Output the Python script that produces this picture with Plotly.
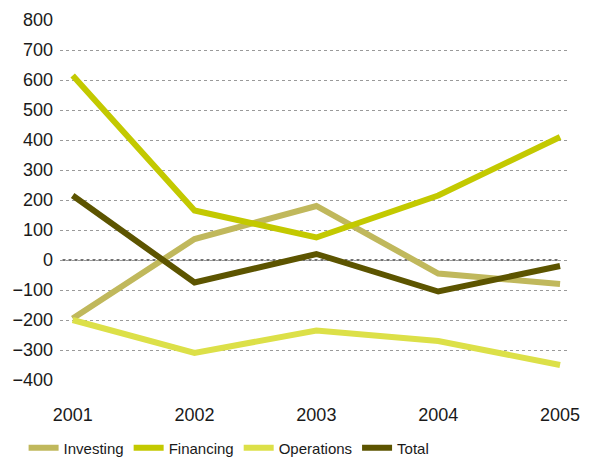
import plotly.graph_objects as go

years = [2001, 2002, 2003, 2004, 2005]
investing = [-195, 70, 180, -45, -80]
financing = [615, 165, 75, 215, 410]
operations = [-200, -310, -235, -270, -350]
total = [215, -75, 20, -105, -20]
y_ticks = list(range(-400, 801, 100))

series = [
    ("Investing", investing, "rgb(192,184,92)"),
    ("Financing", financing, "rgb(195,201,0)"),
    ("Operations", operations, "rgb(220,224,72)"),
    ("Total", total, "rgb(92,84,0)"),
]

font_family = "Liberation Sans, Arial, sans-serif"

fig = go.Figure()
for name, vals, color in series:
    fig.add_trace(go.Scatter(
        x=years, y=vals, name=name, mode="lines",
        line=dict(color=color, width=6),
    ))

fig.add_shape(type="line", xref="paper", yref="y", x0=0.005, x1=0.985, y0=0, y1=0,
              line=dict(color="#444444", width=1.5, dash="dot"), layer="below")

fig.update_layout(
    width=590, height=459,
    margin=dict(l=60, r=23, t=20, b=79, autoexpand=False),
    paper_bgcolor="white", plot_bgcolor="white",
    font=dict(family=font_family, size=18, color="#1a1a1a"),
    showlegend=True,
    legend=dict(orientation="h", xref="container", yref="container",
                x=0.04, xanchor="left", y=0.024, yanchor="middle",
                font=dict(size=15), itemwidth=30, tracegroupgap=0),
    xaxis=dict(
        range=[2001 - 0.104, 2005 + 0.057],
        tickvals=years, ticktext=[str(y) for y in years],
        showgrid=False, zeroline=False, showline=False,
        ticks="", ticklabelstandoff=22,
    ),
    yaxis=dict(
        range=[-400, 800], tickvals=y_ticks,
        showgrid=True, gridcolor="#9a9a9a", griddash="dot", gridwidth=1,
        zeroline=False, showline=False, ticks="", ticklabelstandoff=6,
    ),
)

fig.write_html("out.html")
